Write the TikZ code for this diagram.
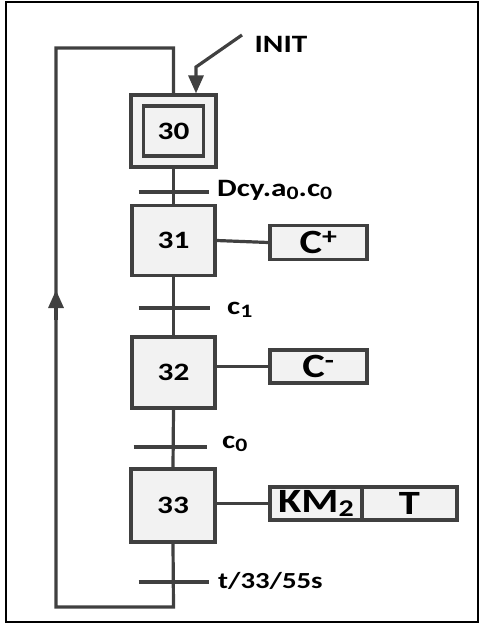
\documentclass[tikz,border=0pt]{standalone}
\usepackage{fontspec}
\setmainfont[FakeStretch=1.25]{Carlito}
\usetikzlibrary{arrows.meta}
\definecolor{lc}{HTML}{404040}
\definecolor{bf}{HTML}{F2F2F2}
\newcommand\lowsub[1]{\raisebox{-0.28ex}{\fontsize{19}{20}\selectfont #1}}
\tikzset{
  ln/.style={draw=lc, line width=3.2pt},
  stepbox/.style={draw=lc, line width=3.2pt, fill=bf, minimum width=83pt, minimum height=70pt, inner sep=0pt, font=\fontsize{25}{27}\selectfont\bfseries},
  actbox/.style={draw=lc, line width=3.2pt, fill=bf, minimum height=34pt, inner sep=0pt, font=\fontsize{34}{36}\selectfont\bfseries},
  lab/.style={anchor=west, inner sep=0pt, font=\fontsize{25}{27}\selectfont\bfseries},
  bar/.style={draw=lc, line width=3.2pt},
  tip/.style={-{Triangle[length=18pt,width=15pt]}}
}
\begin{document}
\begin{tikzpicture}[x=1pt,y=-1pt]
\useasboundingbox (0,0) rectangle (480,624);
\draw[line width=2pt] (6,1.5) rectangle (477.5,622);
% steps
\node[stepbox, minimum width=85pt, minimum height=72pt] (s30) at (173.5,131) {};
\node[stepbox, minimum width=60pt, minimum height=50pt] (s30i) at (173.5,131) {30};
\node[stepbox] (s31) at (173.5,240.5) {31};
\node[stepbox, minimum height=71pt] (s32) at (173.5,372.5) {32};
\node[stepbox, minimum width=84pt, minimum height=73pt] (s33) at (173,505.5) {33};
% actions
\node[actbox, minimum width=97pt] (a31) at (318.5,242.5) {C\textsuperscript{+}};
\node[actbox, minimum width=97pt, minimum height=33pt] (a32) at (318.5,366.5) {C\textsuperscript{-}};
\node[actbox, minimum width=92pt, minimum height=33pt] (km) at (316,503.5) {KM\lowsub{\fontsize{24}{26}\selectfont 2}};
\node[actbox, minimum width=95pt, minimum height=33pt] (tt) at (409.5,503.5) {T};
% transitions
\coordinate (t1) at (173.5,192);
\coordinate (t2) at (173.5,308);
\coordinate (t3) at (173.5,447);
\coordinate (t4) at (173.5,582);
\coordinate (lb) at (173.5,607);
\coordinate (ll) at (56,607);
\coordinate (lt) at (56,48);
\coordinate (rt) at (173.5,48);
% links
\draw[ln] (s30.south) -- (s31.north);
\draw[ln] (s31.south) -- (s32.north);
\draw[ln] (s32.south) -- (s33.north);
\draw[ln, line join=miter] (s33.south) -- (lb) -- (ll) -- (lt) -- (rt) -- (s30.north);
\draw[ln] (s31.east) -- (a31.west);
\draw[ln] (s32.east |- a32.west) -- (a32.west);
\draw[ln] (s33.east |- km.west) -- (km.west);
% transition bars
\draw[bar] ([xshift=-35pt]t1) -- ([xshift=35pt]t1);
\draw[bar] ([xshift=-35pt]t2) -- ([xshift=36pt]t2);
\draw[bar] ([xshift=-40pt]t3) -- ([xshift=33pt]t3);
\draw[bar] ([xshift=-35pt]t4) -- ([xshift=35pt]t4);
% transition labels
\node[lab] (l1) at (217,190) {Dcy.a\lowsub{0}.c\lowsub{0}};
\node[lab] (l2) at (227,310) {c\lowsub{1}};
\node[lab] (l3) at (222,444) {c\lowsub{0}};
\node[lab, font=\fontsize{23}{25}\selectfont\bfseries] (l4) at (218,581) {t/33/55s};
% INIT
\node[lab, anchor=center] (init) at (281,44) {INIT};
\coordinate (ia) at (242,35);
\coordinate (ib) at (196,67);
\draw[ln, line join=miter, tip] (ia) -- (ib) -- (ib |- s30.north);
% loop arrow
\coordinate (ua) at (56,320);
\coordinate (ub) at (56,290);
\draw[ln, tip] (ua) -- (ub);
\end{tikzpicture}
\end{document}
